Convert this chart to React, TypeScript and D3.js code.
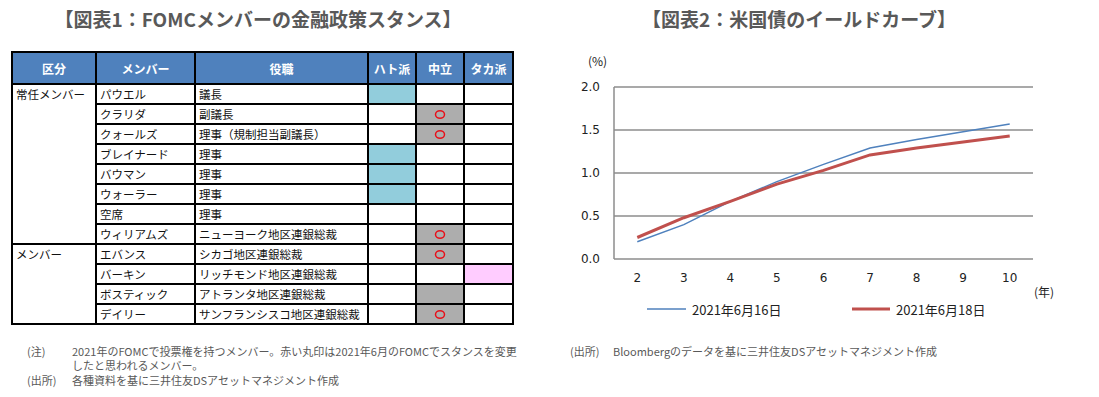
import React from 'react';
import {scaleBand,scaleLinear,scalePoint,line} from 'd3';

// ---- table data ----
const headers=["区分","メンバー","役職","ハト派","中立","タカ派"];
const groups=[{name:"常任メンバー",rows:8},{name:"メンバー",rows:4}];
const members=["パウエル","クラリダ","クォールズ","ブレイナード","バウマン","ウォーラー","空席","ウィリアムズ","エバンス","バーキン","ボスティック","デイリー"];
const roles=["議長","副議長","理事（規制担当副議長）","理事","理事","理事","理事","ニューヨーク地区連銀総裁","シカゴ地区連銀総裁","リッチモンド地区連銀総裁","アトランタ地区連銀総裁","サンフランシスコ地区連銀総裁"];
// 0 = dove, 1 = neutral, 2 = hawk, -1 = none
const stance=[0,1,1,0,0,0,-1,1,1,2,1,1];
const changed=[false,true,true,false,false,false,false,true,true,false,false,true];

// ---- yield curve data ----
const tenors=["2","3","4","5","6","7","8","9","10"];
const yield0616=[0.20,0.40,0.67,0.90,1.10,1.29,1.39,1.48,1.57];
const yield0618=[0.25,0.48,0.67,0.87,1.03,1.21,1.29,1.36,1.43];
const yTicks=[0,0.5,1.0,1.5,2.0];

const jp='"Noto Sans CJK JP", "Noto Sans", sans-serif';
const num='"DejaVu Sans", Verdana, sans-serif';
const grey="#595959";

const colX=[12,96,195,368,416,464,513];
const stanceFill=["#92CDDC","#ADADAD","#FFCCFF"];

const Table=()=>{
  const top=84, headTop=52;
  const y=scaleBand<number>().domain(members.map((_,i)=>i)).range([top,top+members.length*20]);
  const bottom=top+members.length*20;
  const bw=y.bandwidth();
  let gStart=0;
  const groupSpans=groups.map(g=>{const s={...g,start:gStart};gStart+=g.rows;return s;});
  return (
    <g>
      <text x={258} y={27} textAnchor="middle" fontFamily={jp} fontWeight="bold" fontSize={19} fill={grey}>【図表1：FOMCメンバーの金融政策スタンス】</text>
      <rect x={colX[0]} y={headTop} width={colX[6]-colX[0]} height={top-headTop} fill="#4F81BD"/>
      {headers.map((h,i)=>(
        <text key={h} x={(colX[i]+colX[i+1])/2} y={(headTop+top)/2} dominantBaseline="central" textAnchor="middle" fill="#fff" fontWeight="bold" fontFamily={jp} fontSize={12}>{h}</text>
      ))}
      {members.map((m,i)=>{
        const ry=y(i)!;
        const s=stance[i];
        return (
          <g key={m}>
            {s>=0 && <rect x={colX[3+s]} y={ry} width={colX[4+s]-colX[3+s]} height={bw} fill={stanceFill[s]}/>}
            {changed[i] && <ellipse cx={(colX[4]+colX[5])/2} cy={ry+bw/2+0.5} rx={4.5} ry={3.8} fill="none" stroke="#E8101A" strokeWidth={1.5}/>}
            <text x={colX[1]+4} y={ry+bw/2} dominantBaseline="central" fontFamily={jp} fontSize={11.5} fill="#111">{m}</text>
            <text x={colX[2]+4} y={ry+bw/2} dominantBaseline="central" fontFamily={jp} fontSize={11.5} fill="#111">{roles[i]}</text>
          </g>
        );
      })}
      {groupSpans.map(g=>(
        <text key={g.name} x={colX[0]+4} y={y(g.start)!+bw/2} dominantBaseline="central" fontFamily={jp} fontSize={11.5} fill="#111">{g.name}</text>
      ))}
      {/* horizontal rules */}
      {members.map((_,i)=>i>0 && (
        <line key={i} x1={groupSpans.some(g=>g.start===i)?colX[0]:colX[1]} x2={colX[6]} y1={y(i)} y2={y(i)} stroke="#000" strokeWidth={2}/>
      ))}
      <line x1={colX[0]} x2={colX[6]} y1={top} y2={top} stroke="#000" strokeWidth={2}/>
      {colX.map((x,i)=>(
        <line key={i} x1={x} x2={x} y1={headTop} y2={bottom} stroke="#000" strokeWidth={2}/>
      ))}
      <rect x={colX[0]} y={headTop} width={colX[6]-colX[0]} height={bottom-headTop} fill="none" stroke="#000" strokeWidth={2}/>
      <g fontFamily={jp} fontSize={11} fill={grey}>
        <text x={27} y={356}>(注)</text>
        <text x={72} y={356}>2021年のFOMCで投票権を持つメンバー。赤い丸印は2021年6月のFOMCでスタンスを変更</text>
        <text x={72} y={370}>したと思われるメンバー。</text>
        <text x={27} y={385}>(出所)</text>
        <text x={72} y={385}>各種資料を基に三井住友DSアセットマネジメント作成</text>
      </g>
    </g>
  );
};

const Curve=()=>{
  const left=614,right=1033;
  const x=scalePoint<string>().domain(tenors).range([left,right]).padding(0.5);
  const y=scaleLinear().domain([0,2]).range([259,87]);
  const gen=line<number>().x((_,i)=>x(tenors[i])!).y(d=>y(d));
  return (
    <g>
      <text x={799} y={27} textAnchor="middle" fontFamily={jp} fontWeight="bold" fontSize={19} fill={grey}>【図表2：米国債のイールドカーブ】</text>
      <text x={588} y={66} fontFamily={jp} fontSize={12} fill="#222">(%)</text>
      {yTicks.map(t=>(
        <g key={t}>
          <line x1={left} x2={right} y1={y(t)} y2={y(t)} stroke="#8C8C8C" strokeWidth={1.5}/>
          <text x={600} y={y(t)} textAnchor="end" dominantBaseline="central" fontFamily={num} fontSize={12} fill="#222">{t.toFixed(1)}</text>
        </g>
      ))}
      <line x1={left} x2={left} y1={y(2)} y2={y(0)} stroke="#8C8C8C" strokeWidth={1.5}/>
      {tenors.map(t=>(
        <text key={t} x={x(t)} y={278} textAnchor="middle" dominantBaseline="central" fontFamily={num} fontSize={12} fill="#222">{t}</text>
      ))}
      <text x={1034} y={297} fontFamily={jp} fontSize={12} fill="#222">(年)</text>
      <path d={gen(yield0616)!} fill="none" stroke="#4F81BD" strokeWidth={1.5}/>
      <path d={gen(yield0618)!} fill="none" stroke="#C0504D" strokeWidth={3}/>
      <line x1={647} x2={686} y1={309} y2={309} stroke="#4F81BD" strokeWidth={1.5}/>
      <text x={692} y={309} dominantBaseline="central" fontFamily={jp} fontSize={13} fill="#222">2021年6月16日</text>
      <line x1={852} x2={890} y1={309} y2={309} stroke="#C0504D" strokeWidth={3}/>
      <text x={896} y={309} dominantBaseline="central" fontFamily={jp} fontSize={13} fill="#222">2021年6月18日</text>
      <g fontFamily={jp} fontSize={11} fill={grey}>
        <text x={570} y={356}>(出所)</text>
        <text x={613} y={356}>Bloombergのデータを基に三井住友DSアセットマネジメント作成</text>
      </g>
    </g>
  );
};

export default function App(){
  return (
    <svg width={1099} height={397} style={{position:"absolute",left:0,top:0,background:"#fff"}}>
      <Table/>
      <Curve/>
    </svg>
  );
}
